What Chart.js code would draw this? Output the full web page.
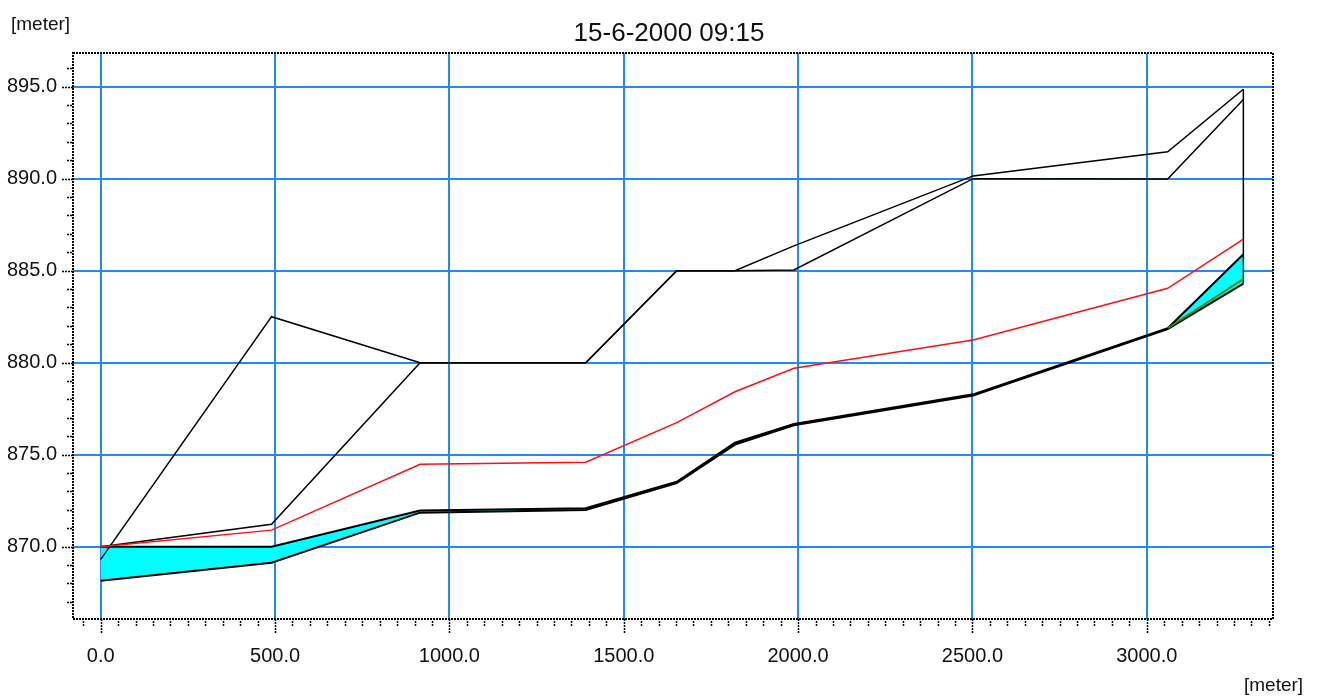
<!DOCTYPE html>
<html>
<head>
<meta charset="utf-8">
<script src="https://cdn.jsdelivr.net/npm/chart.js@4/dist/chart.umd.min.js"></script>
<style>
  html, body { margin: 0; padding: 0; background: #fff; }
  #wrap { width: 1322px; height: 697px; }
</style>
</head>
<body>
<div id="wrap"><canvas id="profileChart" width="1322" height="697"></canvas></div>
<script>
// Longitudinal profile, 15-6-2000 09:15
const titleText = '15-6-2000 09:15';
const unitLabel = '[meter]';

// chainage of the cross sections (m)
const chainage = [0, 490, 916, 1391, 1652, 1819, 1988, 2502, 3060, 3277];
// levels (m)
const leftBank = [869.31, 882.5, 880, 880, 885, 885, 886.35, 890.15, 891.46, 894.86];
const rightBank = [870, 871.22, 880, 880, 885, 885, 885.04, 890, 889.98, 894.3];
const maxLevel = [870, 870.9, 874.48, 874.59, 876.74, 878.42, 879.7, 881.23, 884.04, 886.72];
const waterLevel = [870, 870, 871.96, 872.09, 873.53, 875.65, 876.67, 878.28, 881.87, 885.89];
const bedLevel = [868.15, 869.13, 871.85, 872.0, 873.45, 875.55, 876.6, 878.22, 881.82, 884.3];
const greenChainage = [3060, 3277];
const greenLevel = [881.87, 884.55];
const endChainage = [3277, 3277];
const endLevel = [894.86, 884.3];

// axis ticks
const xTicks = [];
for (let v = -50; v <= 3350; v += 50) xTicks.push(v);
const yTicks = [];
for (let v = 867; v <= 896; v += 1) yTicks.push(v);

const pts = (xs, ys) => xs.map((x, i) => ({ x: x, y: ys[i] }));

const fontFam = "'Liberation Sans', Arial, sans-serif";
const gridBlue = '#1f8cf5';

const frameAndTicks = {
  id: 'frameAndTicks',
  afterDraw(chart) {
    const { ctx, chartArea: a, scales } = chart;
    ctx.save();
    ctx.strokeStyle = '#000';
    ctx.lineWidth = 2;
    ctx.setLineDash([2, 1]);
    ctx.strokeRect(a.left, a.top, a.right - a.left, a.bottom - a.top);
    ctx.lineWidth = 1.5;
    ctx.beginPath();
    xTicks.forEach(v => {
      const px = Math.round(scales.x.getPixelForValue(v)) + 0.5;
      const major = v % 500 === 0;
      ctx.moveTo(px, a.bottom + (major ? 0 : 2));
      ctx.lineTo(px, a.bottom + (major ? 14 : 8));
    });
    yTicks.forEach(v => {
      const py = Math.round(scales.y.getPixelForValue(v)) + 0.5;
      const major = v % 5 === 0;
      ctx.moveTo(a.left - (major ? 11 : 6), py);
      ctx.lineTo(a.left, py);
    });
    ctx.stroke();
    ctx.setLineDash([]);
    ctx.fillStyle = '#111';
    ctx.font = '26px ' + fontFam;
    ctx.textAlign = 'center';
    ctx.textBaseline = 'alphabetic';
    ctx.fillText(titleText, 669, 41);
    ctx.font = '19px ' + fontFam;
    ctx.textAlign = 'left';
    ctx.fillText(unitLabel, 11, 30);
    ctx.fillText(unitLabel, 1244, 691);
    ctx.restore();
  }
};

const lineStyle = (color, width, order) => ({
  borderColor: color,
  borderWidth: width,
  pointRadius: 0,
  tension: 0,
  fill: false,
  order: order
});

new Chart(document.getElementById('profileChart'), {
  type: 'line',
  data: {
    datasets: [
      Object.assign(lineStyle('#000', 2, 5), { label: 'Water level', data: pts(chainage, waterLevel),
        fill: { target: 1, above: '#00ffff', below: '#00ffff' } }),
      Object.assign(lineStyle('#000', 2, 4), { label: 'Bed level', data: pts(chainage, bedLevel) }),
      Object.assign(lineStyle('#1a8a1a', 2, -1), { label: 'Green', data: pts(greenChainage, greenLevel) }),
      Object.assign(lineStyle('#ff1010', 1.5, 0), { label: 'Max level', data: pts(chainage, maxLevel) }),
      Object.assign(lineStyle('#000', 1.5, 0), { label: 'Left bank', data: pts(chainage, leftBank) }),
      Object.assign(lineStyle('#000', 1.5, 0), { label: 'Right bank', data: pts(chainage, rightBank) }),
      Object.assign(lineStyle('#000', 1.5, 0), { label: 'End', data: pts(endChainage, endLevel) })
    ]
  },
  options: {
    responsive: false,
    animation: false,
    layout: { padding: { left: 0, right: 49, top: 53, bottom: 0 } },
    plugins: {
      legend: { display: false },
      tooltip: { enabled: false },
      filler: { propagate: false }
    },
    scales: {
      x: {
        type: 'linear',
        min: -79.4,
        max: 3362,
        afterBuildTicks: s => { s.ticks = xTicks.map(v => ({ value: v })); },
        afterFit: s => { s.height = 78; },
        border: { display: false },
        grid: {
          drawTicks: false,
          lineWidth: 2,
          color: c => (c.tick && c.tick.value % 500 === 0) ? gridBlue : 'rgba(0,0,0,0)'
        },
        ticks: {
          autoSkip: false,
          maxRotation: 0,
          padding: 25,
          color: '#111',
          font: { family: fontFam, size: 20 },
          callback: v => v % 500 === 0 ? v.toFixed(1) : ''
        }
      },
      y: {
        min: 866.07,
        max: 896.83,
        afterBuildTicks: s => { s.ticks = yTicks.map(v => ({ value: v })); },
        afterFit: s => { s.width = 73; },
        border: { display: false },
        grid: {
          drawTicks: false,
          lineWidth: 2,
          color: c => (c.tick && c.tick.value % 5 === 0) ? gridBlue : 'rgba(0,0,0,0)'
        },
        ticks: {
          autoSkip: false,
          padding: 16,
          color: '#111',
          font: { family: fontFam, size: 20 },
          callback: v => v % 5 === 0 ? v.toFixed(1) : ''
        }
      }
    }
  },
  plugins: [frameAndTicks]
});
</script>
</body>
</html>
